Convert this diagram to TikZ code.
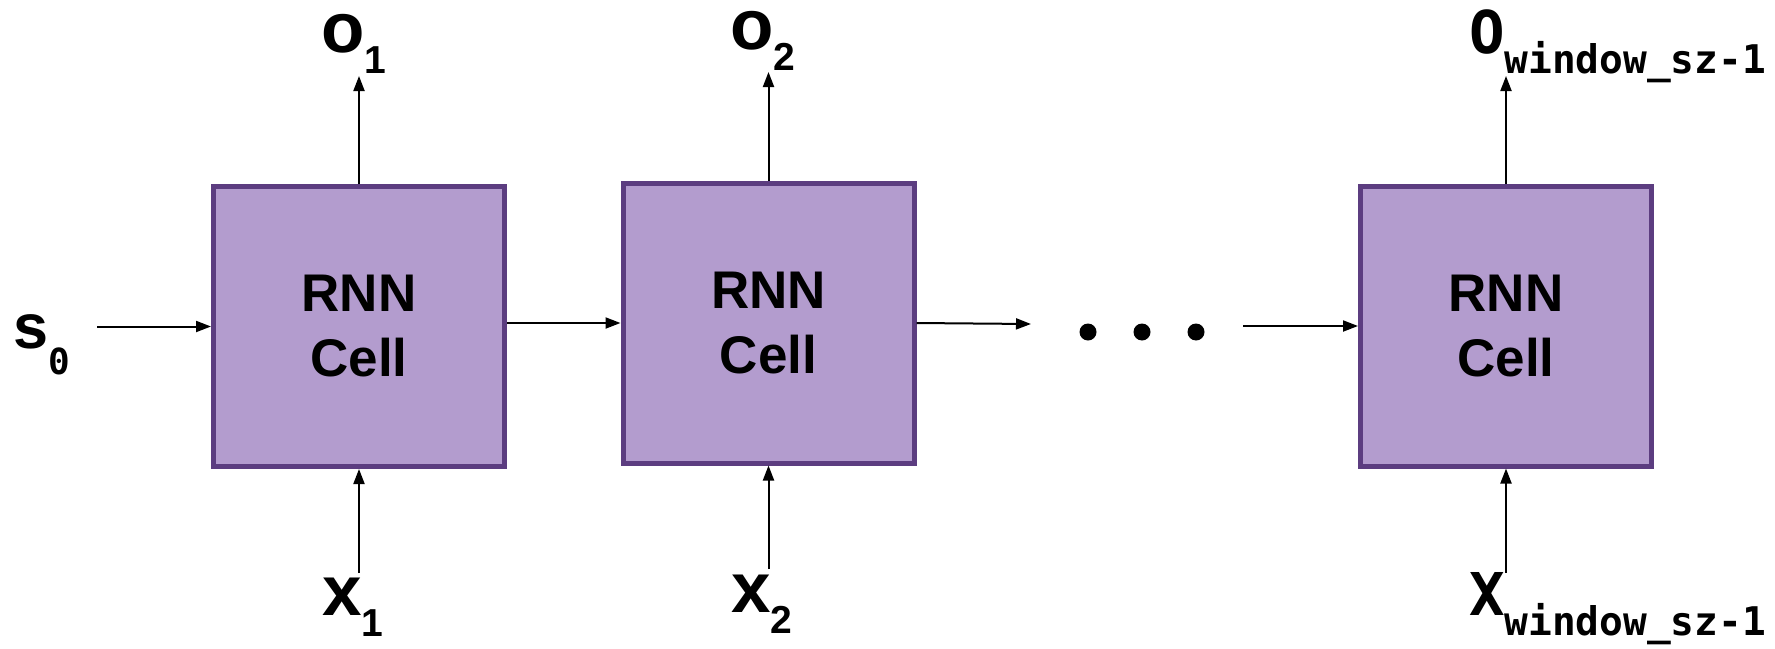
\documentclass[tikz,border=0pt]{standalone}
\usepackage{fontspec}
\setmainfont{Liberation Sans}
\newfontfamily\monof{DejaVu Sans Mono}
\usetikzlibrary{arrows.meta}
\definecolor{cellfill}{RGB}{179,156,206}
\definecolor{cellborder}{RGB}{92,61,128}
\newcommand\mainlet[1]{{\fontsize{71}{71}\selectfont\bfseries #1}}
\newcommand\subdig[1]{\raisebox{-21pt}{\fontsize{39}{39}\selectfont\bfseries #1}}
\newcommand\monomain[1]{{\monof\fontsize{59}{59}\selectfont\bfseries #1}}
\newcommand\monosub[1]{\raisebox{-20pt}{\monof\fontsize{39.5}{39.5}\selectfont\bfseries #1}}
\begin{document}
\begin{tikzpicture}[x=1pt,y=-1pt,
  cell/.style={draw=cellborder, fill=cellfill, line width=5pt, minimum width=291pt, minimum height=280pt, inner sep=0pt, align=center, font=\fontsize{53}{65}\selectfont\bfseries},
  arr/.style={line width=2pt, -{Triangle[length=15pt,width=11pt]}},
  lab/.style={anchor=base west, inner sep=0pt, outer sep=0pt},
  dotc/.style={circle, fill=black, minimum size=17pt, inner sep=0pt}]
\useasboundingbox (0,0) rectangle (1775,648);
% cells
\node[cell] (c1) at (359,326.5) {RNN\\Cell};
\node[cell] (c2) at (768.5,323) {RNN\\Cell};
\node[cell] (c3) at (1506,326) {RNN\\Cell};
% dots
\node[dotc] (d1) at (1088,332) {};
\node[dotc] (d2) at (1142,332) {};
\node[dotc] (d3) at (1196,332) {};
% labels
\node[lab] (s0) at (13,348) {{\fontsize{63}{63}\selectfont\bfseries s}\raisebox{-26pt}{\monof\fontsize{36}{36}\selectfont\bfseries 0}};
\node[lab] (o1) at (321,52) {\mainlet{o}\subdig{1}};
\node[lab] (x1) at (322,615) {\mainlet{x}\subdig{1}};
\node[lab] (o2) at (730,49) {\mainlet{o}\subdig{2}};
\node[lab] (x2) at (731,612) {\mainlet{x}\subdig{2}};
\node[lab] (ow) at (1469,53) {\monomain{O}\monosub{window\_sz-1}};
\node[lab] (xw) at (1469,615) {\monomain{X}\monosub{window\_sz-1}};
% free ends
\coordinate (s0e) at (97,326.5);
\coordinate (o1e) at (359,76);
\coordinate (x1e) at (359,573);
\coordinate (o2e) at (768.5,72);
\coordinate (x2e) at (768.5,569);
\coordinate (owe) at (1506,76);
\coordinate (xwe) at (1506,573);
\coordinate (dots-in) at (1031,324);
\coordinate (dots-out) at (1243,326);
% connectors
\draw[arr] (s0e) -- (c1.west);
\draw[arr] (c1.east |- c2.west) -- (c2.west);
\draw[arr] (c2.east) -- (dots-in);
\draw[arr] (dots-out) -- (c3.west);
\draw[arr] (c1.north) -- (o1e);
\draw[arr] (x1e) -- (c1.south);
\draw[arr] (c2.north) -- (o2e);
\draw[arr] (x2e) -- (c2.south);
\draw[arr] (c3.north) -- (owe);
\draw[arr] (xwe) -- (c3.south);
\end{tikzpicture}
\end{document}
